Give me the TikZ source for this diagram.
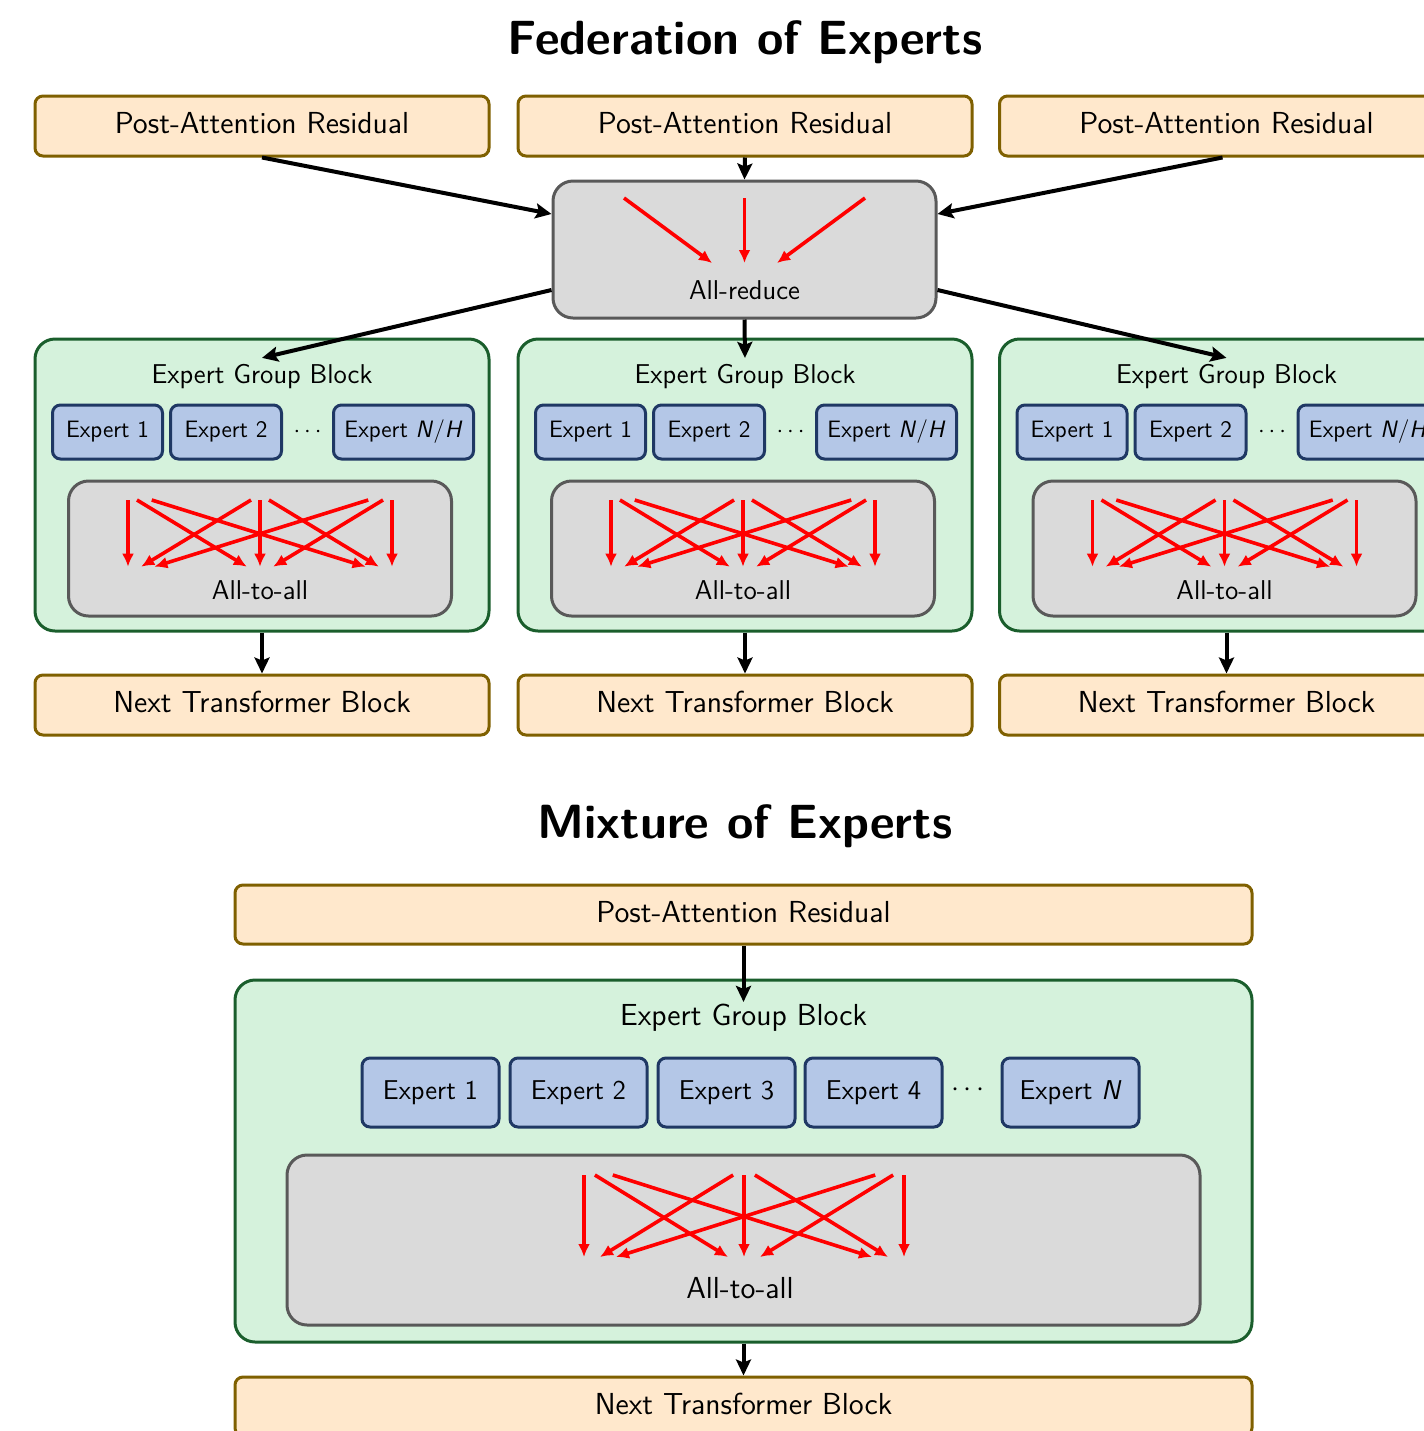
\documentclass[tikz,border=0pt]{standalone}
\usepackage{fontspec}
\usetikzlibrary{arrows.meta,calc}

\definecolor{resfill}{RGB}{255,232,204}
\definecolor{resdraw}{RGB}{127,96,0}
\definecolor{grpfill}{RGB}{213,242,220}
\definecolor{grpdraw}{RGB}{26,94,44}
\definecolor{expfill}{RGB}{180,199,231}
\definecolor{expdraw}{RGB}{31,56,100}
\definecolor{commfill}{RGB}{218,218,218}
\definecolor{commdraw}{RGB}{89,89,89}

\tikzset{
  box/.style={draw, line width=1.5pt, inner sep=0pt},
  resbox/.style={box, fill=resfill, draw=resdraw, rounded corners=4pt,
    minimum height=30pt, text depth=3pt, font=\sffamily\fontsize{15.2}{18}\selectfont},
  grpbox/.style={box, fill=grpfill, draw=grpdraw, rounded corners=10pt},
  expbox/.style={box, fill=expfill, draw=expdraw, rounded corners=4pt},
  commbox/.style={box, fill=commfill, draw=commdraw, rounded corners=10pt},
  title/.style={font=\sffamily\bfseries\fontsize{24}{29}\selectfont},
  flow/.style={line width=2pt, -{Stealth[length=8pt,width=7.5pt,inset=1.5pt]}},
  redarrow/.style={red, line width=1.8pt, -{Latex[length=6.5pt,width=6pt]}},
  smalltxt/.style={font=\sffamily\fontsize{13.6}{16}\selectfont},
  tinytxt/.style={font=\sffamily\fontsize{11.85}{14}\selectfont},
  bigtxt/.style={font=\sffamily\fontsize{15.2}{18}\selectfont},
}

% all-to-all exchange between three ranks: centre x, spacing, top y, bottom y
\newcommand\redmesh[4]{%
  \foreach \i in {-1,0,1}{%
    \foreach \j in {-1,0,1}{%
      \pgfmathsetmacro\dd{\j-\i}%
      \pgfmathsetmacro\so{sign(\dd)*(abs(\dd)>1.5 ? 0.18 : 0.068)*#2}%
      \pgfmathsetmacro\eo{-sign(\dd)*(abs(\dd)>1.5 ? 0.2 : 0.1)*#2}%
      \draw[redarrow] (#1+\i*#2+\so, #3) -- (#1+\j*#2+\eo, #4);
    }%
  }%
}

\begin{document}
\begin{tikzpicture}[x=0.5pt, y=-0.5pt]
\useasboundingbox (0,0) rectangle (1424,1431);
\clip (0,0) rectangle (1424,1431);

% ---------------- Federation of Experts ----------------
\node[title] (ftitle) at (745,42) {Federation of Experts};

\node[commbox, minimum width=191.5pt, minimum height=68.5pt] (ar) at (744.5,249.5) {};
\node[smalltxt] (arlab) at (744.5,290) {All-reduce};
\draw[redarrow] (624,198) -- (712,263);
\draw[redarrow] (744.5,198) -- (744.5,263);
\draw[redarrow] (865,198) -- (777,263);

\foreach \k/\cx in {1/262, 2/745, 3/1226.5}{
  \node[resbox, minimum width=227pt] (par\k) at (\cx,126) {Post-Attention Residual};
  \node[grpbox, minimum width=227pt, minimum height=146pt] (grp\k) at (\cx,485) {};
  \node[smalltxt, inner sep=3pt] (glab\k) at (\cx,376.5) {Expert Group Block};
  \node[expbox, tinytxt, minimum width=55pt, minimum height=27pt] (e\k a) at (\cx-154.5,432) {Expert 1};
  \node[expbox, tinytxt, minimum width=55.5pt, minimum height=27pt] (e\k b) at (\cx-36,432) {Expert 2};
  \node[tinytxt] (dots\k) at (\cx+45.5,432) {$\cdots$};
  \node[expbox, tinytxt, minimum width=70pt, minimum height=27pt] (e\k n) at (\cx+141.5,432) {Expert \textit{N}/\textit{H}};
  \node[commbox, minimum width=191.5pt, minimum height=67.5pt] (a2a\k) at (\cx-2,548.5) {};
  \node[smalltxt] (a2alab\k) at (\cx-2,590) {All-to-all};
  \redmesh{\cx-2}{132}{500}{566.7}
  \node[resbox, minimum width=227pt] (ntb\k) at (\cx,705) {Next Transformer Block};
  \draw[flow] (grp\k.south) -- (ntb\k.north);
}

\draw[flow] (par1.south) -- ($(ar.west)+(0,-35.5)$);
\draw[flow] (par2.south) -- (ar.north);
\draw[flow] ($(par3.south)+(-4,0)$) -- ($(ar.east)+(0,-35.5)$);
\draw[flow] ($(ar.west)+(0,40.5)$) -- (glab1.north);
\draw[flow] (ar.south) -- (glab2.north);
\draw[flow] ($(ar.east)+(0,40.5)$) -- (glab3.north);

% ---------------- Mixture of Experts ----------------
\node[title] (mtitle) at (745,826) {Mixture of Experts};
\node[resbox, minimum width=508.5pt, minimum height=29.5pt] (mpar) at (743.5,914.5) {Post-Attention Residual};
\node[grpbox, minimum width=508.5pt, minimum height=181pt] (mgrp) at (743.5,1161) {};
\node[bigtxt, inner sep=1pt] (mglab) at (743.5,1018) {Expert Group Block};
\foreach \k/\ex/\lab in {1/430.5/Expert 1, 2/578.5/Expert 2, 3/726.5/Expert 3, 4/873.5/Expert 4}{
  \node[expbox, smalltxt, minimum width=68.5pt, minimum height=34.5pt] (me\k) at (\ex,1092.5) {\lab};
}
\node[smalltxt] (mdots) at (968,1090) {$\cdots$};
\node[expbox, smalltxt, minimum width=68.5pt, minimum height=34.5pt] (men) at (1070.5,1092.5) {Expert \textit{N}};
\node[commbox, minimum width=456.5pt, minimum height=85pt] (ma2a) at (743.5,1240) {};
\node[bigtxt] (ma2alab) at (740,1288) {All-to-all};
\redmesh{744}{160}{1175}{1257}
\node[resbox, minimum width=508.5pt, minimum height=29.5pt] (mntb) at (743.5,1406.5) {Next Transformer Block};

\draw[flow] (mpar.south) -- (mglab.north);
\draw[flow] (mgrp.south) -- (mntb.north);
\end{tikzpicture}
\end{document}
